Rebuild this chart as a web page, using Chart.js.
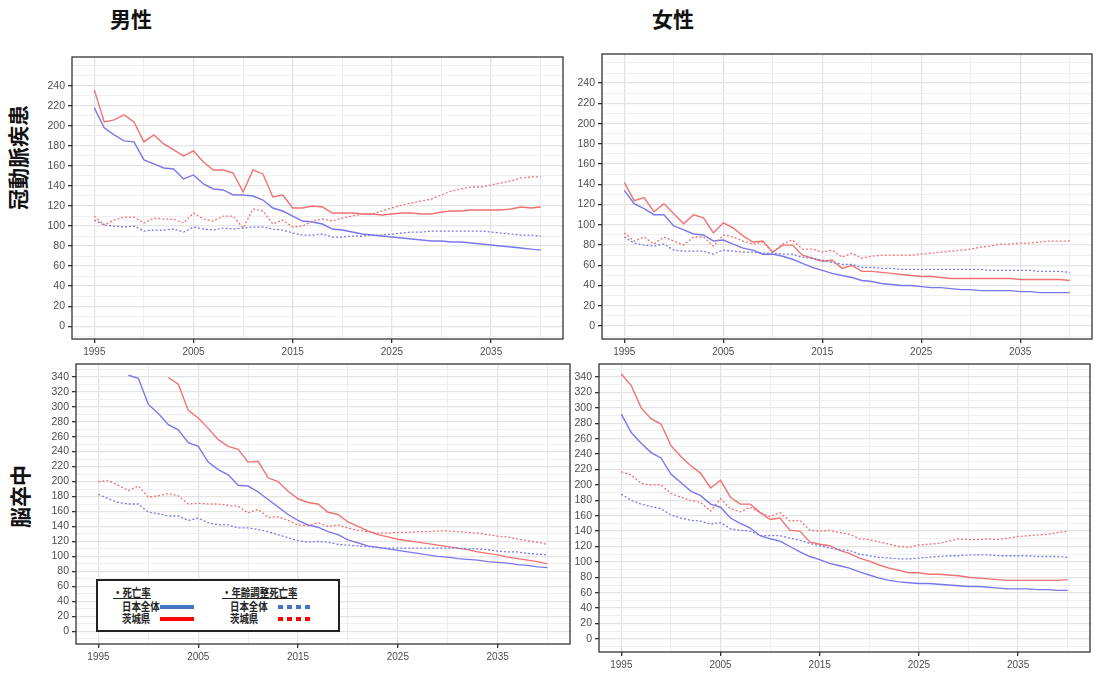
<!DOCTYPE html>
<html>
<head>
<meta charset="utf-8">
<script src="https://cdn.jsdelivr.net/npm/chart.js@4"></script>
<style>
  body { margin: 0; background: #fff; width: 1105px; height: 675px; position: relative; overflow: hidden;
         font-family: "Noto Sans CJK JP", "Noto Sans", sans-serif; }
  canvas { position: absolute; }
  .title { position: absolute; font-size: 21px; font-weight: bold; color: #111; line-height: 1; }
  .rowlab { position: absolute; font-size: 21px; font-weight: bold; color: #111; line-height: 1;
            transform: rotate(-90deg); transform-origin: center center; white-space: nowrap; }
  #legend { position: absolute; left: 96px; top: 579px; width: 240px; height: 49px;
            border: 2px solid #222; background: #fff; font-size: 11.5px; font-weight: bold; color: #222; }
  #legend span { position: absolute; line-height: 13px; white-space: nowrap;
                 transform: scaleX(0.82); transform-origin: left center; }
  #legend .u { text-decoration: underline; text-underline-offset: 1px; }
  #legend .bar { position: absolute; height: 4px; }
</style>
</head>
<body>

<div class="title" style="left:110px; top:8px;">男性</div>
<div class="title" style="left:652px; top:8px;">女性</div>
<div class="rowlab" style="left:-35px; top:147px;">冠動脈疾患</div>
<div class="rowlab" style="left:-12px; top:486px;">脳卒中</div>

<canvas id="cA"></canvas>
<canvas id="cB"></canvas>
<canvas id="cC"></canvas>
<canvas id="cD"></canvas>

<div id="legend">
  <span class="u" style="left:15px; top:5px;">・死亡率</span>
  <span style="left:24px; top:19px;">日本全体</span>
  <span style="left:24px; top:31px;">茨城県</span>
  <div class="bar" style="left:62px; top:24px; width:34px; background:#4472c4;"></div>
  <div class="bar" style="left:62px; top:36px; width:34px; background:#ff0000;"></div>
  <span class="u" style="left:124px; top:5px;">・年齢調整死亡率</span>
  <span style="left:132px; top:19px;">日本全体</span>
  <span style="left:132px; top:31px;">茨城県</span>
  <div class="bar" style="left:180px; top:24px; width:34px; background:repeating-linear-gradient(to right, #4472c4 0 5px, transparent 5px 9px);"></div>
  <div class="bar" style="left:180px; top:36px; width:34px; background:repeating-linear-gradient(to right, #ff0000 0 5px, transparent 5px 9px);"></div>
</div>

<script>
// years on the x axis
const years = [1995, 1996, 1997, 1998, 1999, 2000, 2001, 2002, 2003, 2004,
               2005, 2006, 2007, 2008, 2009, 2010, 2011, 2012, 2013, 2014,
               2015, 2016, 2017, 2018, 2019, 2020, 2021, 2022, 2023, 2024,
               2025, 2026, 2027, 2028, 2029, 2030, 2031, 2032, 2033, 2034,
               2035, 2036, 2037, 2038, 2039, 2040];

// tick labels
const xLabels = [1995, 2005, 2015, 2025, 2035];
const xGrid = [1995, 2000, 2005, 2010, 2015, 2020, 2025, 2030, 2035, 2040];
const topYLabels = [0, 20, 40, 60, 80, 100, 120, 140, 160, 180, 200, 220, 240];
const topYGrid = [-10, 0, 10, 20, 30, 40, 50, 60, 70, 80, 90, 100, 110, 120, 130, 140,
                  150, 160, 170, 180, 190, 200, 210, 220, 230, 240, 250, 260];
const bottomYLabels = [0, 20, 40, 60, 80, 100, 120, 140, 160, 180, 200, 220, 240, 260, 280, 300, 320, 340];
const bottomYGrid = [-10, 0, 10, 20, 30, 40, 50, 60, 70, 80, 90, 100, 110, 120, 130, 140, 150, 160,
                     170, 180, 190, 200, 210, 220, 230, 240, 250, 260, 270, 280, 290, 300, 310,
                     320, 330, 340, 350];

// 男性 冠動脈疾患
const maleChdJapan = [218, 198, 191, 185, 184, 166, 162, 158, 157, 147, 151, 142, 137, 136, 131, 131, 130, 126, 118, 115,
                      110, 105, 104, 102, 97, 96, 94, 92, 91, 90, 89, 88, 87, 86, 85, 85, 84, 84, 83, 82,
                      81, 80, 79, 78, 77, 76];
const maleChdIbaraki = [236, 204, 206, 211, 204, 184, 191, 182, 176, 170, 175, 164, 156, 156, 153, 134, 156, 152, 129, 131,
                        118, 118, 120, 119, 113, 113, 113, 112, 112, 111, 112, 113, 113, 112, 112, 114, 115, 115, 116, 116,
                        116, 116, 117, 119, 118, 119];
const maleChdJapanAdj = [106, 101, 100, 99, 100, 95, 96, 96, 97, 94, 99, 97, 96, 98, 97, 98, 99, 99, 97, 96,
                         93, 91, 91, 92, 89, 89, 90, 90, 91, 91, 92, 93, 94, 94, 95, 95, 95, 95, 95, 95,
                         94, 93, 92, 91, 91, 90];
const maleChdIbarakiAdj = [110, 101, 106, 109, 109, 103, 108, 107, 107, 103, 113, 107, 105, 110, 110, 98, 117, 115, 102, 106,
                           99, 100, 105, 107, 105, 108, 110, 112, 112, 115, 118, 121, 123, 125, 127, 131, 135, 137, 139, 139,
                           141, 143, 145, 148, 149, 149];

// 女性 冠動脈疾患
const femaleChdJapan = [134, 121, 116, 110, 110, 99, 95, 91, 90, 84, 85, 81, 77, 75, 71, 71, 69, 66, 62, 58,
                        55, 52, 50, 48, 45, 44, 42, 41, 40, 40, 39, 38, 38, 37, 36, 36, 35, 35, 35, 35,
                        34, 34, 33, 33, 33, 33];
const femaleChdIbaraki = [142, 124, 127, 113, 121, 111, 101, 110, 107, 92, 102, 97, 89, 83, 84, 73, 80, 80, 70, 67,
                          64, 65, 57, 60, 54, 54, 53, 52, 51, 50, 49, 49, 48, 47, 47, 47, 47, 47, 47, 47,
                          46, 46, 46, 46, 46, 45];
const femaleChdJapanAdj = [88, 82, 80, 79, 81, 75, 74, 74, 74, 71, 75, 74, 73, 73, 72, 72, 71, 71, 68, 67,
                           65, 63, 61, 61, 58, 58, 57, 57, 56, 56, 56, 56, 56, 56, 56, 56, 56, 55, 55, 55,
                           55, 55, 54, 54, 54, 53];
const femaleChdIbarakiAdj = [92, 84, 88, 81, 88, 84, 80, 88, 88, 79, 90, 88, 84, 81, 83, 73, 81, 85, 76, 76,
                             73, 75, 68, 72, 67, 69, 70, 70, 70, 70, 71, 72, 73, 74, 75, 76, 78, 79, 81, 81,
                             82, 82, 83, 84, 84, 84];

// 男性 脳卒中 (values above the axis limit are left out)
const maleStrokeJapan = [null, null, null, 342, 338, 303, 291, 276, 269, 252, 247, 226, 216, 209, 195, 194, 186, 176, 166, 156,
                         148, 142, 139, 133, 129, 122, 118, 114, 112, 110, 108, 106, 104, 102, 100, 99, 97, 96, 95, 93,
                         92, 91, 89, 88, 86, 85];
const maleStrokeIbaraki = [null, null, null, null, null, null, null, 339, 330, 295, 285, 271, 256, 247, 243, 226, 227, 205, 200, 187,
                           177, 172, 170, 159, 156, 146, 140, 134, 129, 126, 123, 121, 119, 117, 115, 113, 111, 109, 106, 104,
                           102, 99, 97, 95, 93, 90];
const maleStrokeJapanAdj = [183, 177, 172, 170, 170, 159, 157, 154, 154, 148, 151, 145, 142, 142, 138, 138, 136, 133, 129, 125,
                            121, 119, 120, 119, 116, 115, 114, 113, 112, 111, 111, 111, 111, 111, 111, 111, 111, 110, 110, 109,
                            107, 106, 106, 104, 103, 102];
const maleStrokeIbarakiAdj = [200, 201, 195, 188, 194, 179, 181, 184, 181, 170, 171, 170, 170, 168, 167, 158, 163, 152, 153, 148,
                              142, 141, 145, 140, 142, 138, 135, 133, 131, 131, 132, 132, 133, 133, 134, 134, 133, 132, 131, 129,
                              127, 126, 123, 121, 119, 116];

// 女性 脳卒中
const femaleStrokeJapan = [292, 268, 254, 242, 235, 214, 203, 192, 186, 175, 171, 157, 150, 144, 134, 130, 127, 120, 113, 107,
                           103, 98, 95, 92, 87, 83, 79, 76, 74, 73, 72, 72, 71, 70, 69, 68, 68, 67, 66, 65,
                           65, 65, 64, 64, 63, 63];
const femaleStrokeIbaraki = [344, 329, 300, 286, 279, 251, 237, 225, 215, 196, 206, 184, 175, 175, 164, 155, 157, 141, 140, 126,
                             123, 121, 115, 111, 105, 101, 96, 92, 89, 86, 86, 84, 84, 83, 82, 80, 79, 78, 77, 76,
                             76, 76, 76, 76, 76, 77];
const femaleStrokeJapanAdj = [188, 180, 175, 172, 169, 161, 157, 154, 153, 149, 151, 143, 141, 140, 134, 134, 134, 131, 128, 124,
                              121, 118, 116, 115, 110, 108, 106, 105, 104, 104, 105, 106, 107, 108, 108, 109, 109, 109, 108, 108,
                              108, 108, 107, 107, 107, 106];
const femaleStrokeIbarakiAdj = [217, 213, 202, 200, 200, 189, 184, 180, 177, 166, 182, 169, 165, 171, 164, 159, 164, 153, 154, 141,
                                140, 141, 138, 136, 130, 129, 126, 123, 120, 119, 122, 123, 124, 127, 130, 129, 129, 130, 129, 131,
                                133, 134, 135, 136, 138, 140];

const RED = '#f07272';
const BLUE = '#7878ec';
const Y_AXIS_W = 40;
const X_AXIS_H = 24;

// panel frame like ggplot theme_bw
const framePlugin = {
    id: 'frame',
    afterDraw(chart) {
        const a = chart.chartArea;
        const ctx = chart.ctx;
        ctx.save();
        ctx.strokeStyle = '#333333';
        ctx.lineWidth = 1.3;
        ctx.strokeRect(a.left, a.top, a.right - a.left, a.bottom - a.top);
        ctx.restore();
    }
};

function toPoints(values) {
    return years.map((yr, i) => ({ x: yr, y: values[i] }));
}

function makePanel(id, box, yMin, yMax, yLabels, yGrid, japan, ibaraki, japanAdj, ibarakiAdj) {
    const canvas = document.getElementById(id);
    canvas.width = box.right - box.left + Y_AXIS_W + 1;
    canvas.height = box.bottom - box.top + 1 + X_AXIS_H;
    canvas.style.left = (box.left - Y_AXIS_W) + 'px';
    canvas.style.top = (box.top - 1) + 'px';

    const line = (data, color, dashed) => ({
        data: toPoints(data),
        borderColor: color,
        borderWidth: dashed ? 1.3 : 1.4,
        borderDash: dashed ? [2, 2] : [],
        pointRadius: 0,
        fill: false,
        spanGaps: false
    });

    return new Chart(canvas.getContext('2d'), {
        type: 'line',
        data: {
            datasets: [
                line(japanAdj, BLUE, true),
                line(ibarakiAdj, RED, true),
                line(japan, BLUE, false),
                line(ibaraki, RED, false)
            ]
        },
        options: {
            responsive: false,
            animation: false,
            layout: { padding: { top: 1, right: 1, left: 0, bottom: 0 } },
            plugins: { legend: { display: false }, tooltip: { enabled: false } },
            elements: { line: { tension: 0 } },
            scales: {
                x: {
                    type: 'linear',
                    min: 1992.75,
                    max: 2042.25,
                    afterBuildTicks: s => { s.ticks = xGrid.map(v => ({ value: v })); },
                    afterFit: s => { s.height = X_AXIS_H; s.paddingLeft = 0; s.paddingRight = 0; },
                    ticks: {
                        autoSkip: false, maxRotation: 0, padding: 3,
                        color: '#4d4d4d',
                        font: { family: 'Liberation Sans', size: 10 },
                        callback: v => xLabels.includes(v) ? String(v) : ''
                    },
                    grid: {
                        color: c => c.tick && xLabels.includes(c.tick.value) ? '#e4e4e4' : '#efefef',
                        lineWidth: c => c.tick && xLabels.includes(c.tick.value) ? 1.3 : 1,
                        tickLength: 4,
                        tickColor: c => c.tick && xLabels.includes(c.tick.value) ? '#333333' : 'rgba(0,0,0,0)'
                    },
                    border: { display: false }
                },
                y: {
                    type: 'linear',
                    min: yMin,
                    max: yMax,
                    afterBuildTicks: s => { s.ticks = yGrid.map(v => ({ value: v })); },
                    afterFit: s => { s.width = Y_AXIS_W; s.paddingTop = 0; s.paddingBottom = 0; },
                    ticks: {
                        autoSkip: false, padding: 3,
                        color: '#4d4d4d',
                        font: { family: 'Liberation Sans', size: 10.5 },
                        callback: v => yLabels.includes(v) ? String(v) : ''
                    },
                    grid: {
                        color: c => c.tick && yLabels.includes(c.tick.value) ? '#e4e4e4' : '#efefef',
                        lineWidth: c => c.tick && yLabels.includes(c.tick.value) ? 1.3 : 1,
                        tickLength: 4,
                        tickColor: c => c.tick && yLabels.includes(c.tick.value) ? '#333333' : 'rgba(0,0,0,0)'
                    },
                    border: { display: false }
                }
            }
        },
        plugins: [framePlugin]
    });
}

makePanel('cA', { left: 72, right: 563, top: 57, bottom: 339 }, -12.8, 268.8, topYLabels, topYGrid,
          maleChdJapan, maleChdIbaraki, maleChdJapanAdj, maleChdIbarakiAdj);
makePanel('cB', { left: 602, right: 1092, top: 54, bottom: 339 }, -12.8, 268.8, topYLabels, topYGrid,
          femaleChdJapan, femaleChdIbaraki, femaleChdJapanAdj, femaleChdIbarakiAdj);
makePanel('cC', { left: 76, right: 570, top: 364, bottom: 644 }, -17, 357, bottomYLabels, bottomYGrid,
          maleStrokeJapan, maleStrokeIbaraki, maleStrokeJapanAdj, maleStrokeIbarakiAdj);
makePanel('cD', { left: 599, right: 1090, top: 364, bottom: 652 }, -17, 357, bottomYLabels, bottomYGrid,
          femaleStrokeJapan, femaleStrokeIbaraki, femaleStrokeJapanAdj, femaleStrokeIbarakiAdj);
</script>
</body>
</html>
